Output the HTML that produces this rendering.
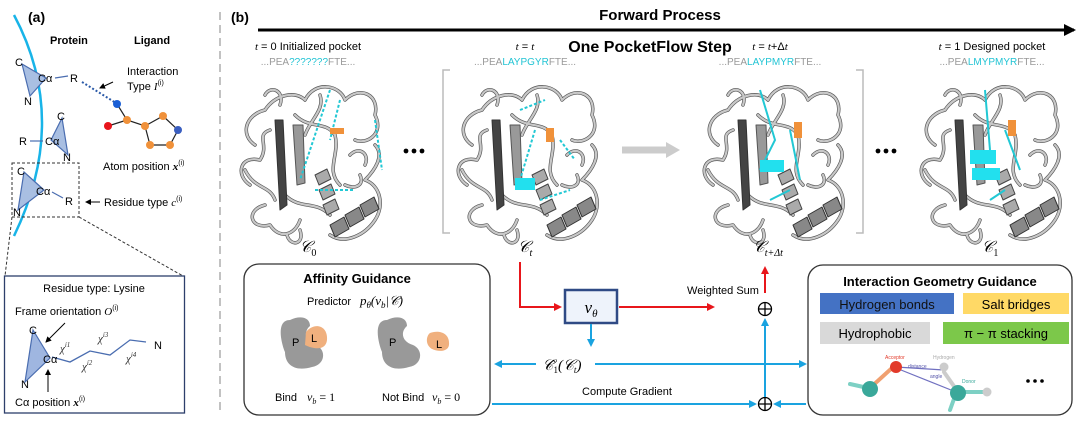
<!DOCTYPE html>
<html><head><meta charset="utf-8"><style>
body{margin:0;background:#fff;}
svg{display:block;font-family:"Liberation Sans",sans-serif;}
.s{font-family:"Liberation Serif",serif;font-style:italic;}
</style></head><body>
<svg width="1080" height="423" viewBox="0 0 1080 423" xmlns="http://www.w3.org/2000/svg">
<defs>
<marker id="ab" markerWidth="8" markerHeight="8" refX="6" refY="4" orient="auto" markerUnits="userSpaceOnUse"><path d="M0,0 L8,4 L0,8 Z" fill="#1aa3e0"/></marker>
<marker id="ar" markerWidth="8" markerHeight="8" refX="6" refY="4" orient="auto" markerUnits="userSpaceOnUse"><path d="M0,0 L8,4 L0,8 Z" fill="#e8161b"/></marker>
<marker id="ak" markerWidth="12" markerHeight="12" refX="10" refY="6" orient="auto" markerUnits="userSpaceOnUse"><path d="M0,0 L12,6 L0,12 Z" fill="#000"/></marker>
<marker id="as" markerWidth="6" markerHeight="6" refX="5" refY="3" orient="auto" markerUnits="userSpaceOnUse"><path d="M0,0 L6,3 L0,6 Z" fill="#000"/></marker>
<g id="prot" fill="none" stroke-linecap="round" stroke-linejoin="round">
<g stroke="#555" stroke-width="3.5">
<path id="l1" d="M20,70 C5,60 10,40 30,35 C40,20 60,15 70,25 C80,5 105,10 110,25 C125,10 145,20 140,40 C150,60 130,70 120,65"/>
<path id="l2" d="M15,110 C0,100 5,80 25,85 C35,70 20,60 35,55 M30,130 C10,135 15,155 35,150 C45,165 60,160 65,145 M95,160 C110,170 130,160 140,145 C150,130 145,110 130,105 C140,95 150,80 140,70 M60,40 C75,55 90,45 100,60 C105,80 90,95 105,110 M50,120 C65,135 80,125 95,140"/>
<path id="l3" d="M45,30 C50,15 35,10 30,20 M85,20 C90,35 75,45 70,60 M115,80 C125,70 135,80 130,90 M10,95 C20,115 35,110 40,125 M65,155 C70,170 55,172 52,160 M110,110 C120,115 130,110 125,100"/>
</g>
<g stroke="#c8c8c8" stroke-width="2.2">
<use href="#l1"/><use href="#l2"/><use href="#l3"/>
</g>
<path d="M40,45 L45,135 L52,130 L48,45 Z" fill="#444" stroke="#333" stroke-width="1"/>
<path d="M58,50 L62,110 L70,108 L68,50 Z" fill="#999" stroke="#555" stroke-width="1"/>
<path d="M80,100 l12,-6 l4,10 l-12,6 z M84,115 l12,-6 l4,10 l-12,6 z M88,130 l12,-6 l4,10 l-12,6 z" fill="#aaa" stroke="#444"/>
<path d="M95,150 l14,-8 l5,12 l-14,8 z M110,140 l14,-8 l5,12 l-14,8 z M125,130 l14,-8 l5,12 l-14,8 z" fill="#888" stroke="#333"/>
</g>
</defs>

<!-- Panel a -->
<text x="28" y="22" font-size="14" font-weight="bold">(a)</text>
<line x1="220" y1="12" x2="220" y2="413" stroke="#999" stroke-width="1.2" stroke-dasharray="8,5"/>
<text x="50" y="44" font-size="11" font-weight="bold">Protein</text>
<text x="134" y="44" font-size="11" font-weight="bold">Ligand</text>
<path d="M14,15 Q70,120 14,236" fill="none" stroke="#18b4e8" stroke-width="2.5"/>
<g fill="#a9bfe2" stroke="#4a6db0" stroke-width="1.2">
<polygon points="22,64 46,78 30,96"/>
<polygon points="62,118 51,140 68,155"/>
<polygon points="24,172 44,190 18,210"/>
</g>
<g font-size="11">
<text x="15" y="66">C</text><text x="38" y="82">Cα</text><text x="70" y="82">R</text><text x="24" y="105">N</text>
<text x="57" y="120">C</text><text x="45" y="145">Cα</text><text x="19" y="145">R</text><text x="63" y="161">N</text>
<text x="17" y="175">C</text><text x="36" y="195">Cα</text><text x="65" y="205">R</text><text x="13" y="216">N</text>
</g>
<g stroke="#4a6db0" stroke-width="1.2"><line x1="55" y1="78" x2="68" y2="76"/><line x1="30" y1="141" x2="43" y2="141"/><line x1="52" y1="192" x2="63" y2="198"/></g>
<line x1="82" y1="82" x2="116" y2="103" stroke="#2b5aa8" stroke-width="2" stroke-dasharray="2,2"/>
<line x1="113" y1="82" x2="100" y2="88" stroke="#000" marker-end="url(#as)"/>
<text x="127" y="75" font-size="11">Interaction</text>
<text x="127" y="90" font-size="11">Type <tspan class="s">I</tspan><tspan font-size="7" dy="-5">(i)</tspan></text>
<g stroke="#222" stroke-width="1.2" fill="none">
<path d="M117,104 L127,120 L108,126 M127,120 L145,126 L163,116 L178,130 L170,145 L150,145 L145,126"/>
</g>
<g>
<circle cx="117" cy="104" r="4" fill="#1a5fd6"/><circle cx="108" cy="126" r="4" fill="#e8141b"/>
<circle cx="127" cy="120" r="4" fill="#f0913a"/><circle cx="145" cy="126" r="4" fill="#f0913a"/>
<circle cx="163" cy="116" r="4" fill="#f0913a"/><circle cx="178" cy="130" r="4" fill="#3a5ec0"/>
<circle cx="170" cy="145" r="4" fill="#f0913a"/><circle cx="150" cy="145" r="4" fill="#f0913a"/>
</g>
<text x="103" y="170" font-size="11">Atom position <tspan class="s" font-weight="bold">x</tspan><tspan font-size="7" dy="-5">(i)</tspan></text>
<rect x="12" y="163" width="67" height="54" fill="none" stroke="#333" stroke-dasharray="3,2"/>
<line x1="100" y1="202" x2="86" y2="202" stroke="#000" marker-end="url(#as)"/>
<text x="104" y="206" font-size="11">Residue type <tspan class="s">c</tspan><tspan font-size="7" dy="-5">(i)</tspan></text>
<line x1="12" y1="217" x2="5" y2="276" stroke="#333" stroke-dasharray="3,2"/>
<line x1="79" y1="217" x2="183" y2="276" stroke="#333" stroke-dasharray="3,2"/>
<rect x="4.5" y="276" width="180" height="137" fill="none" stroke="#2d3f6b" stroke-width="1.3"/>
<text x="94" y="292" font-size="11" text-anchor="middle">Residue type: Lysine</text>
<text x="15" y="315" font-size="11">Frame orientation <tspan class="s">O</tspan><tspan font-size="7" dy="-5">(i)</tspan></text>
<polygon points="33,330 50,358 25,382" fill="#9fb6e0" stroke="#4a6db0" stroke-width="1.2"/>
<path d="M52,357 L70,362 L90,351 L110,355 L130,340 L146,342" fill="none" stroke="#4a6db0" stroke-width="1.3"/>
<text x="29" y="334" font-size="11">C</text><text x="43" y="363" font-size="11">Cα</text><text x="21" y="388" font-size="11">N</text>
<text x="154" y="349" font-size="11">N</text>
<g class="s" font-size="11" fill="#333"><text x="60" y="352">χ<tspan font-size="7" dy="-5">i1</tspan></text><text x="82" y="370">χ<tspan font-size="7" dy="-5">i2</tspan></text><text x="98" y="342">χ<tspan font-size="7" dy="-5">i3</tspan></text><text x="126" y="362">χ<tspan font-size="7" dy="-5">i4</tspan></text></g>
<line x1="65" y1="323" x2="46" y2="342" stroke="#000" marker-end="url(#as)"/>
<line x1="48" y1="392" x2="48" y2="370" stroke="#000" marker-end="url(#as)"/>
<text x="15" y="406" font-size="11">Cα position <tspan class="s" font-weight="bold">x</tspan><tspan font-size="7" dy="-5">(i)</tspan></text>

<!-- Panel b header -->
<text x="231" y="22" font-size="14" font-weight="bold">(b)</text>
<text x="660" y="20" font-size="15" font-weight="bold" text-anchor="middle">Forward Process</text>
<line x1="258" y1="30" x2="1074" y2="30" stroke="#000" stroke-width="3" marker-end="url(#ak)"/>
<text x="650" y="52" font-size="16" font-weight="bold" text-anchor="middle">One PocketFlow Step</text>
<g font-size="11" text-anchor="middle">
<text x="308" y="50"><tspan class="s">t</tspan> = 0 Initialized pocket</text>
<text x="525" y="50"><tspan class="s">t</tspan> = <tspan class="s">t</tspan></text>
<text x="770" y="50"><tspan class="s">t</tspan> = <tspan class="s">t</tspan>+Δ<tspan class="s">t</tspan></text>
<text x="992" y="50"><tspan class="s">t</tspan> = 1 Designed pocket</text>
</g>
<g font-size="10" text-anchor="middle" fill="#999">
<text x="308" y="65">...PEA<tspan fill="#22c4d4">???????</tspan>FTE...</text>
<text x="525" y="65">...PEA<tspan fill="#22c4d4">LAYPGYR</tspan>FTE...</text>
<text x="770" y="65">...PEA<tspan fill="#22c4d4">LAYPMYR</tspan>FTE...</text>
<text x="992" y="65">...PEA<tspan fill="#22c4d4">LMYPMYR</tspan>FTE...</text>
</g>
<path d="M450,70 L443,70 L443,233 L450,233 M856,70 L863,70 L863,233 L856,233" fill="none" stroke="#bbb" stroke-width="1.5"/>

<use href="#prot" x="235" y="75"/>
<use href="#prot" x="452" y="75"/>
<use href="#prot" x="698" y="75"/>
<use href="#prot" x="915" y="75"/>
<!-- cyan bits -->
<g fill="none" stroke="#22c8d4" stroke-width="2">
<path d="M330,90 L300,180 M340,100 L330,140 M375,120 L382,170 M315,190 L355,190" stroke-dasharray="3,2"/>
<path d="M520,110 L545,100 M535,130 L520,180 M560,140 L575,160 M540,200 L570,190" stroke-dasharray="3,2"/>
<path d="M760,90 L775,140 L760,170 M790,130 L800,180 M770,200 L790,190"/>
<path d="M985,90 L990,150 M1005,130 L1020,170 M990,200 L1005,190"/>
</g>
<rect x="515" y="178" width="20" height="12" fill="#22e0ee"/>
<rect x="760" y="160" width="24" height="12" fill="#22e0ee"/>
<rect x="970" y="150" width="26" height="14" fill="#22e0ee"/><rect x="972" y="168" width="28" height="12" fill="#22e0ee"/>
<g fill="#f0913a"><rect x="330" y="128" width="14" height="6"/><rect x="546" y="128" width="8" height="14"/><rect x="794" y="122" width="8" height="16"/><rect x="1008" y="120" width="8" height="16"/></g>
<g fill="#000"><circle cx="406" cy="151" r="2.4"/><circle cx="414" cy="151" r="2.4"/><circle cx="422" cy="151" r="2.4"/>
<circle cx="878" cy="151" r="2.4"/><circle cx="886" cy="151" r="2.4"/><circle cx="894" cy="151" r="2.4"/></g>
<line x1="622" y1="150" x2="668" y2="150" stroke="#ccc" stroke-width="7"/>
<path d="M666,142 L680,150 L666,158 Z" fill="#ccc"/>
<g class="s" font-size="16" text-anchor="middle">
<text x="308" y="252">𝒞<tspan font-size="10" dy="4" font-style="normal">0</tspan></text>
<text x="525" y="252">𝒞<tspan font-size="10" dy="4">t</tspan></text>
<text x="768" y="252">𝒞<tspan font-size="10" dy="4">t+Δt</tspan></text>
<text x="990" y="252">𝒞<tspan font-size="10" dy="4" font-style="normal">1</tspan></text>
</g>

<!-- Affinity box -->
<rect x="244" y="264" width="246" height="151" rx="15" fill="#fff" stroke="#333" stroke-width="1.3"/>
<text x="357" y="283" font-size="13" font-weight="bold" text-anchor="middle">Affinity Guidance</text>
<text x="307" y="305" font-size="11">Predictor</text>
<text x="360" y="305" class="s" font-size="13">p<tspan font-size="9" dy="3">θ</tspan><tspan dy="-3">(v</tspan><tspan font-size="9" dy="3">b</tspan><tspan dy="-3">|𝒞)</tspan></text>
<path d="M290,320 C275,320 282,345 285,352 C285,365 295,372 312,367 C325,365 327,350 316,345 C305,342 303,332 310,326 C310,317 300,315 290,320 Z" fill="#999"/>
<path d="M306,332 C314,322 328,325 327,340 C326,350 315,350 305,345 Z" fill="#f0b07e"/>
<text x="292" y="346" font-size="11">P</text><text x="311" y="342" font-size="11">L</text>
<path d="M387,320 C372,320 379,345 382,352 C382,365 392,372 409,367 C422,365 424,350 413,345 C402,342 400,332 407,326 C407,317 397,315 387,320 Z" fill="#999"/>
<path d="M430,333 C438,330 450,332 449,345 C448,352 438,352 432,349 C425,345 426,336 430,333 Z" fill="#f0b07e"/>
<text x="389" y="346" font-size="11">P</text><text x="436" y="348" font-size="11">L</text>
<text x="275" y="401" font-size="11">Bind</text>
<text x="307" y="401" class="s" font-size="12">v<tspan font-size="8" dy="3">b</tspan><tspan dy="-3" font-style="normal"> = 1</tspan></text>
<text x="382" y="401" font-size="11">Not Bind</text>
<text x="432" y="401" class="s" font-size="12">v<tspan font-size="8" dy="3">b</tspan><tspan dy="-3" font-style="normal"> = 0</tspan></text>

<!-- center flow -->
<path d="M520,262 L520,307 L560,307" fill="none" stroke="#e8161b" stroke-width="2" marker-end="url(#ar)"/>
<rect x="565" y="290" width="52" height="33" fill="#eef3fb" stroke="#2f4a85" stroke-width="2.5"/>
<text x="591" y="313" class="s" font-size="17" text-anchor="middle">v<tspan font-size="11" dy="4">θ</tspan></text>
<line x1="619" y1="307" x2="713" y2="307" stroke="#e8161b" stroke-width="2" marker-end="url(#ar)"/>
<text x="723" y="294" font-size="11" text-anchor="middle">Weighted Sum</text>
<line x1="765" y1="293" x2="765" y2="268" stroke="#e8161b" stroke-width="2" marker-end="url(#ar)"/>
<circle cx="765" cy="309" r="6.5" fill="#fff" stroke="#000" stroke-width="1.3"/><path d="M758.5,309 H771.5 M765,302.5 V315.5" stroke="#000" stroke-width="1.3"/>
<circle cx="765" cy="404" r="6.5" fill="#fff" stroke="#000" stroke-width="1.3"/><path d="M758.5,404 H771.5 M765,397.5 V410.5" stroke="#000" stroke-width="1.3"/>
<line x1="591" y1="324" x2="591" y2="345" stroke="#1aa3e0" stroke-width="2" marker-end="url(#ab)"/>
<text x="562" y="370" class="s" font-size="15" text-anchor="middle">𝒞̂<tspan font-size="9" dy="3" font-style="normal">1</tspan><tspan dy="-3">(𝒞</tspan><tspan font-size="9" dy="3">t</tspan><tspan dy="-3">)</tspan></text>
<line x1="536" y1="364" x2="496" y2="364" stroke="#1aa3e0" stroke-width="2" marker-end="url(#ab)"/>
<line x1="595" y1="364" x2="805" y2="364" stroke="#1aa3e0" stroke-width="2" marker-end="url(#ab)"/>
<line x1="765" y1="397" x2="765" y2="320" stroke="#1aa3e0" stroke-width="2" marker-end="url(#ab)"/>
<line x1="492" y1="404" x2="755" y2="404" stroke="#1aa3e0" stroke-width="2" marker-end="url(#ab)"/>
<line x1="806" y1="404" x2="775" y2="404" stroke="#1aa3e0" stroke-width="2" marker-end="url(#ab)"/>
<text x="627" y="395" font-size="11" text-anchor="middle">Compute Gradient</text>

<!-- Interaction box -->
<rect x="808" y="265" width="264" height="150" rx="15" fill="#fff" stroke="#333" stroke-width="1.3"/>
<text x="940" y="286" font-size="13" font-weight="bold" text-anchor="middle">Interaction Geometry Guidance</text>
<rect x="820" y="293" width="134" height="21" fill="#4472c4"/>
<text x="887" y="309" font-size="13" text-anchor="middle" fill="#111">Hydrogen bonds</text>
<rect x="963" y="293" width="106" height="21" fill="#ffd966"/>
<text x="1016" y="309" font-size="13" text-anchor="middle">Salt bridges</text>
<rect x="820" y="322" width="110" height="22" fill="#d9d9d9"/>
<text x="875" y="338" font-size="13" text-anchor="middle">Hydrophobic</text>
<rect x="943" y="322" width="126" height="22" fill="#7cc84a"/>
<text x="1006" y="338" font-size="13" text-anchor="middle">π − π stacking</text>
<g stroke-linecap="round">
<line x1="850" y1="384" x2="868" y2="388" stroke="#7dd0c4" stroke-width="4"/>
<line x1="870" y1="388" x2="892" y2="368" stroke="#f0a070" stroke-width="4"/>
<line x1="896" y1="367" x2="944" y2="370" stroke="#7070c0" stroke-width="1.2"/>
<line x1="896" y1="368" x2="956" y2="392" stroke="#7070c0" stroke-width="1.2"/>
<line x1="944" y1="372" x2="958" y2="392" stroke="#ccc" stroke-width="4"/>
<line x1="962" y1="392" x2="985" y2="392" stroke="#7dd0c4" stroke-width="4"/>
<line x1="955" y1="396" x2="950" y2="410" stroke="#7dd0c4" stroke-width="4"/>
</g>
<circle cx="870" cy="389" r="8" fill="#3aa89a"/>
<circle cx="896" cy="367" r="6" fill="#e23a2a"/>
<circle cx="944" cy="367" r="4.5" fill="#ccc"/>
<circle cx="958" cy="393" r="8" fill="#3aa89a"/>
<circle cx="987" cy="392" r="4.5" fill="#ccc"/>
<g font-size="5"><text x="885" y="359" fill="#e23a2a">Acceptor</text><text x="933" y="359" fill="#aaa">Hydrogen</text><text x="962" y="383" fill="#3aa89a">Donor</text><text x="908" y="368" fill="#55a">distance</text><text x="930" y="378" fill="#55a">angle</text></g>
<g fill="#000"><circle cx="1028" cy="381" r="1.8"/><circle cx="1035" cy="381" r="1.8"/><circle cx="1042" cy="381" r="1.8"/></g>
</svg>
</body></html>
